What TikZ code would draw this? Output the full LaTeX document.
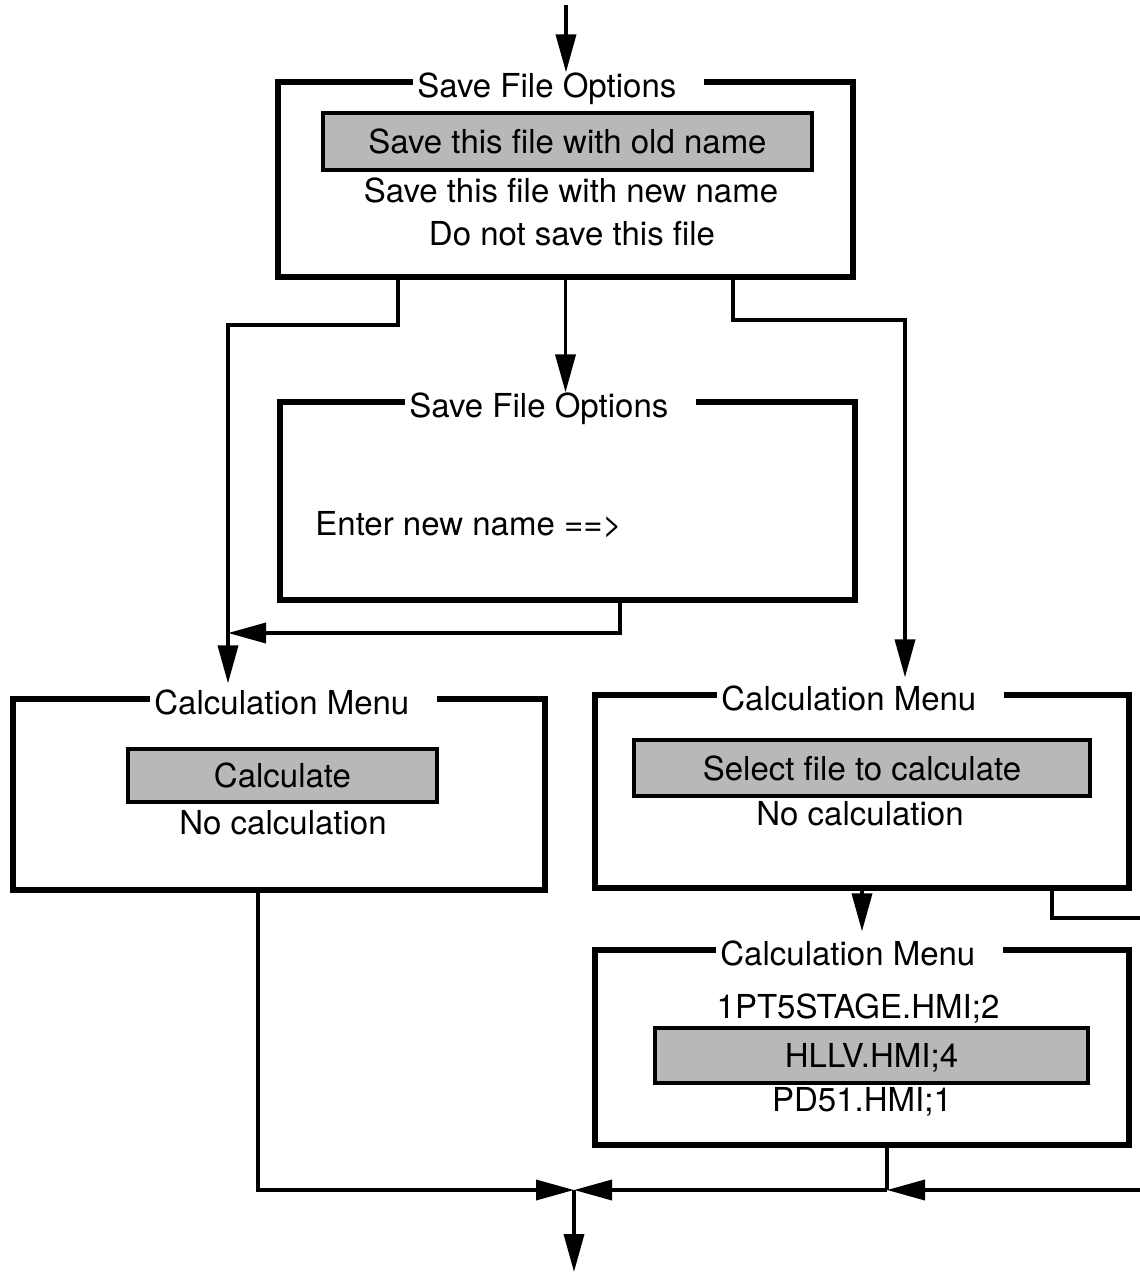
\documentclass[tikz,border=0pt]{standalone}
\usepackage{fontspec}
\setmainfont{TeX Gyre Heros}
\usetikzlibrary{arrows.meta, positioning, calc}
\definecolor{ink}{HTML}{000000}
\definecolor{shade}{HTML}{B8B8B8}

\begin{document}
\begin{tikzpicture}[
    x=0.5pt, y=-0.5pt,
    every node/.style={font=\fontsize{16.5}{19}\selectfont, text=ink},
    menu/.style={rectangle, draw=ink, line width=2.6pt, inner sep=0pt},
    ttl/.style={fill=white, anchor=base west, yshift=-7.5pt, inner xsep=2pt, inner ysep=1pt},
    sel/.style={rectangle, draw=ink, fill=shade, line width=2pt, inner sep=0pt,
                text height=12pt, text depth=0pt},
    itm/.style={inner sep=0pt, text height=12pt, text depth=0pt},
    arr/.style={-{Triangle[length=19pt, width=10pt]}, line width=1.8pt, color=ink},
    wire/.style={line width=1.8pt, color=ink},
]
\useasboundingbox (0,0) rectangle (1140,1274);

% ================================================================ save options
\node[menu, minimum width=287.5pt, minimum height=97.5pt] (save) at (565.5,179.5) {};
\node[ttl] (saveT) at (413,82) {Save File Options\rule{12pt}{0pt}};
\node[sel, minimum width=244.5pt, minimum height=28.5pt] (old) at (567.5,141.5) {Save this file with old name};
\node[itm] (new) at (571,190) {Save this file with new name};
\node[itm] (skip) at (572,233) {Do not save this file};

% ================================================================ new name
\node[menu, minimum width=287.5pt, minimum height=99pt] (rename) at (567.5,501) {};
\node[ttl] (renameT) at (405,402) {Save File Options\rule{12pt}{0pt}};
\node[itm, anchor=west] (prompt) at (315,523) {Enter new name ==>};

% ================================================================ calculation menus
\node[menu, minimum width=266pt, minimum height=95.5pt] (calcA) at (279,794.5) {};
\node[ttl] (calcAT) at (150,699) {Calculation Menu\rule{12pt}{0pt}};
\node[sel, minimum width=154.5pt, minimum height=26.5pt] (go) at (282.5,775.5) {Calculate};
\node[itm] (noA) at (283,822) {No calculation};

\node[menu, minimum width=267pt, minimum height=96.5pt] (calcB) at (862,791.5) {};
\node[ttl] (calcBT) at (717,695) {Calculation Menu\rule{12pt}{0pt}};
\node[sel, minimum width=228pt, minimum height=28pt] (pick) at (862,768) {Select file to calculate};
\node[itm] (noB) at (860,813) {No calculation};

\node[menu, minimum width=267pt, minimum height=97.5pt] (files) at (862,1047.5) {};
\node[ttl] (filesT) at (716,950) {Calculation Menu\rule{12pt}{0pt}};
\node[itm] (f1) at (858,1006) {1PT5STAGE.HMI;2};
\node[sel, minimum width=216.5pt, minimum height=27.5pt] (f2) at (871.5,1055.5) {HLLV.HMI;4};
\node[itm] (f3) at (862,1099) {PD51.HMI;1};

% ================================================================ connectors
\coordinate (in) at (566,5);
\coordinate (kl) at (228,325);
\coordinate (kr) at (905,320);
\coordinate (jl) at (228,633);
\coordinate (offB) at (1140,918);
\coordinate (jm) at (574,1190);
\coordinate (jr) at (887,1190);
\coordinate (offF) at (1140,1190);
\coordinate (out) at (574,1272);

\draw[arr] (in) -- ([yshift=3.5pt]in |- save.north);
\draw[arr] ($(save.south)+(-167.5,0)$) |- (kl) -- ([yshift=6.5pt]kl |- calcA.north);
\draw[arr] (save.south) -- ([yshift=3.5pt]save.south |- rename.north);
\draw[arr] ($(save.south)+(167.5,0)$) |- (kr) -- ([yshift=7.5pt]kr |- calcB.north);
\draw[arr] ($(rename.south)+(52.5,0)$) |- (jl);

\draw[arr] (calcB.south) -- ([yshift=8pt]calcB.south |- files.north);
\draw[wire] ($(calcB.south)+(190,0)$) |- (offB);

% the three ways back join below
\draw[arr] ($(calcA.south)+(-21,0)$) |- (jm);
\draw[wire] ($(files.south)+(25,0)$) -- (jr);
\draw[arr] (offF) -- (jr);
\draw[arr] (jr) -- (jm);
\draw[arr] (jm) -- (out);
\end{tikzpicture}
\end{document}
